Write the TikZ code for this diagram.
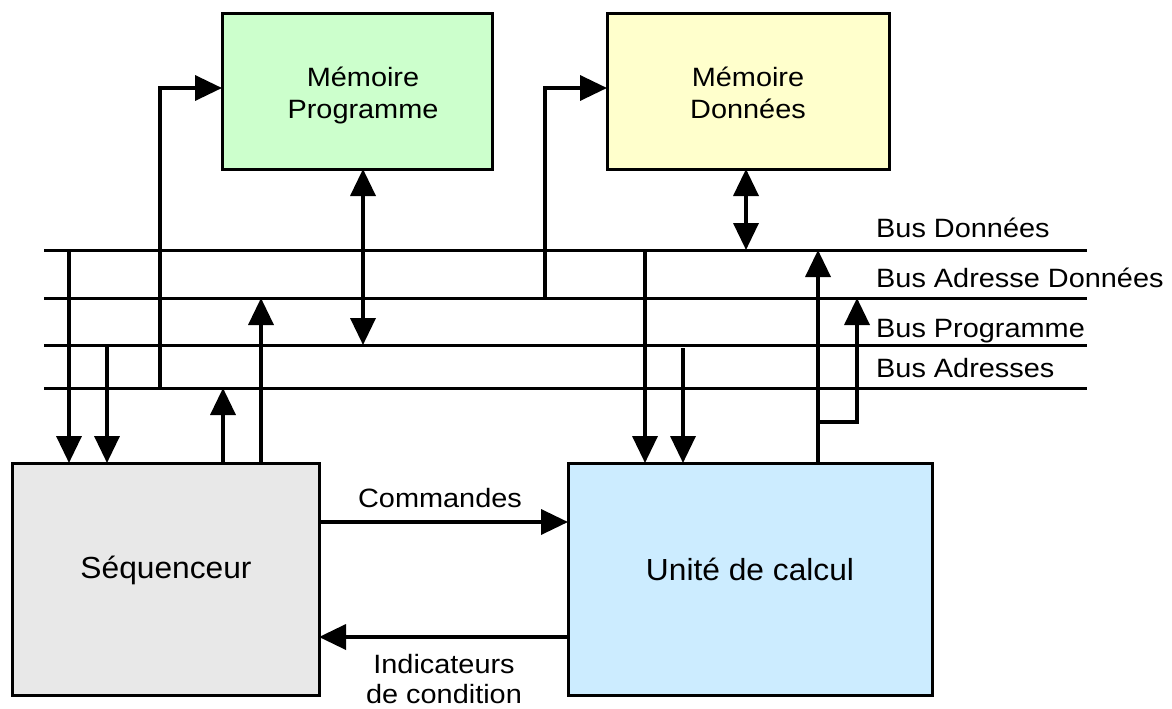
\documentclass[tikz,border=0pt]{standalone}
\usepackage{fontspec}
\setmainfont{Liberation Sans}
\newfontfamily\boxfont[FakeStretch=1.04]{Liberation Sans}
\newfontfamily\labfont[FakeStretch=1.09]{Liberation Sans}
\usetikzlibrary{arrows.meta}
\definecolor{mpgreen}{HTML}{CCFFCC}
\definecolor{mdyellow}{HTML}{FFFFCC}
\definecolor{seqgray}{HTML}{E8E8E8}
\definecolor{ucblue}{HTML}{CCECFF}
\begin{document}
\begin{tikzpicture}[x=1pt,y=-1pt,
  blk/.style={draw=black, line width=3pt, inner sep=0pt, outer sep=0pt},
  bus/.style={line width=3pt},
  arr/.style={line width=3.6pt, -{Triangle[length=27pt,width=25pt]}},
  darr/.style={line width=3.6pt, {Triangle[length=27pt,width=25pt]}-{Triangle[length=27pt,width=25pt]}},
  bigtxt/.style={font=\boxfont\fontsize{30.5pt}{36pt}\selectfont, inner sep=0pt, anchor=base},
  labtxt/.style={font=\labfont\fontsize{26.5pt}{32pt}\selectfont, inner sep=0pt, anchor=base},
  buslab/.style={labtxt, anchor=base west}
]
\fill[white] (0,0) rectangle (1172,709);
\useasboundingbox (0,0) rectangle (1172,709);

% blocks
\node[blk, fill=mpgreen, minimum width=270pt, minimum height=155pt] (mp) at (357,91.5) {};
\node[blk, fill=mdyellow, minimum width=282pt, minimum height=155pt] (md) at (748,91.5) {};
\node[blk, fill=seqgray, minimum width=307pt, minimum height=232pt] (seq) at (165.5,579) {};
\node[blk, fill=ucblue, minimum width=364pt, minimum height=232pt] (uc) at (750,579) {};

% block texts
\node[labtxt] (mpt1) at (363,86) {Mémoire};
\node[labtxt] (mpt2) at (363,118) {Programme};
\node[labtxt] (mdt1) at (748,86) {Mémoire};
\node[labtxt] (mdt2) at (748,118) {Données};
\node[bigtxt] (seqt) at (166,578) {Séquenceur};
\node[bigtxt] (uct) at (750,580) {Unité de calcul};

% buses
\coordinate (bd-w) at (44,250);  \coordinate (bd-e) at (1087,250);
\coordinate (bad-w) at (44,298); \coordinate (bad-e) at (1087,298);
\coordinate (bp-w) at (44,345);  \coordinate (bp-e) at (1087,345);
\coordinate (ba-w) at (44,388);  \coordinate (ba-e) at (1087,388);
\draw[bus] (bd-w) -- (bd-e);
\draw[bus] (bad-w) -- (bad-e);
\draw[bus] (bp-w) -- (bp-e);
\draw[bus] (ba-w) -- (ba-e);

\node[buslab] (lbd) at (876,237) {Bus Données};
\node[buslab] (lbad) at (876,287) {Bus Adresse Données};
\node[buslab] (lbp) at (876,337) {Bus Programme};
\node[buslab] (lba) at (876,377) {Bus Adresses};

% bus tap points
\coordinate (t1) at (69,250);
\coordinate (t2) at (107,345);
\coordinate (t3) at (160,388);
\coordinate (t4) at (223,388);
\coordinate (t5) at (261,298);
\coordinate (t6) at (363,345);
\coordinate (t7) at (545,298);
\coordinate (t8) at (746,250);
\coordinate (t9) at (645,250);
\coordinate (t10) at (683,348);
\coordinate (t11) at (818,250);
\coordinate (t12) at (857,298);
\coordinate (k12) at (818,422);

% sequencer connections
\draw[arr] (t1) -- (t1 |- seq.north);
\draw[arr] (t2) -- (t2 |- seq.north);
\draw[arr] (t4 |- seq.north) -- (t4);
\draw[arr] (t5 |- seq.north) -- (t5);
\draw[arr] (t3) |- ([yshift=3.5pt]mp.west);

% memories
\draw[darr] (t6 |- mp.south) -- (t6);
\draw[arr] (t7) |- ([yshift=3.5pt]md.west);
\draw[darr] (t8 |- md.south) -- (t8);

% computation unit
\draw[arr] (t9) -- (t9 |- uc.north);
\draw[arr] (t10) -- (t10 |- uc.north);
\draw[arr] (t11 |- uc.north) -- (t11);
\draw[arr] (k12) -| (t12);

% control signals
\draw[arr] ([yshift=57pt]seq.east) -- ([yshift=57pt]uc.west);
\draw[arr] ([yshift=-58pt]uc.west) -- ([yshift=-58pt]seq.east);
\node[labtxt] (cmd) at (440,507) {Commandes};
\node[labtxt] (ind1) at (444,673) {Indicateurs};
\node[labtxt] (ind2) at (444,703) {de condition};
\end{tikzpicture}
\end{document}
